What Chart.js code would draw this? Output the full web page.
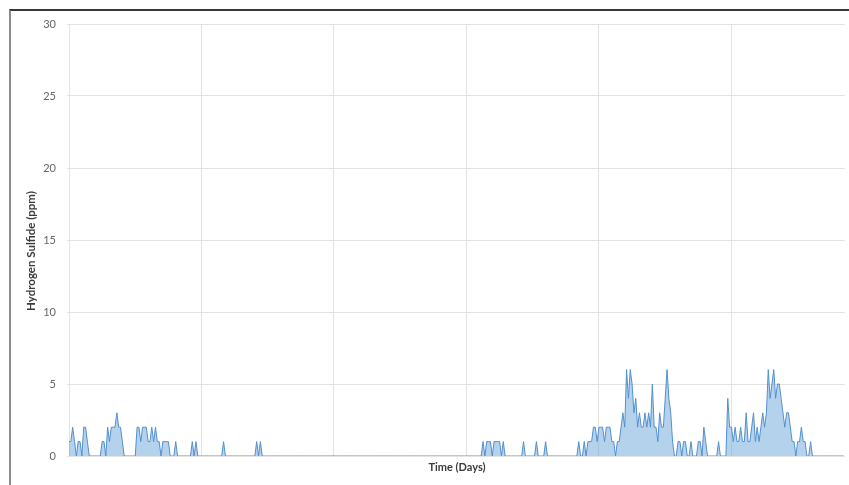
<!DOCTYPE html>
<html>
<head>
<meta charset="utf-8">
<title>Hydrogen Sulfide</title>
<script src="https://cdn.jsdelivr.net/npm/chart.js@4.4.0/dist/chart.umd.min.js"></script>
<style>
    html, body { margin: 0; padding: 0; background: #fff; overflow: hidden; }
    #wrap { position: relative; width: 849px; height: 485px; }
    #frame {
        position: absolute; left: 9px; top: 9px; width: 900px; height: 520px;
        border-top: 2px solid #383838; border-left: 2px solid #8c8c8c;
        pointer-events: none;
    }
</style>
</head>
<body>
<div id="wrap">
    <canvas id="h2sChart"></canvas>
    <div id="frame"></div>
</div>
<script>
// one reading every 20 minutes
const SAMPLES_PER_DAY = 72;
const X_MAX_DAYS = 5.857;

// gridline positions
const dayGrid = [0, 1, 2, 3, 4, 5];
const ppmTicks = [0, 5, 10, 15, 20, 25, 30];

// H2S readings (ppm)
const h2sPpm = [
    1,1,2,1,0,1,1,0,2,2,1,0, 0,0,0,0,0,0, 1,1,0,2,1,2,2,2,3,2,2,1, 0,0,0,0,0,0,
    0, 2,2,1,2,2,2,1,1,2,1,2,1,1,0,1,1,1,1, 0,0,0, 1, 0,0,0,0,0,0,0,0, 1,0,1, 0,0,
    0,0,0,0,0,0,0,0,0,0,0,0, 1, 0,0,0,0,0,0,0,0,0,0,0,0,0,0,0,0,0, 1,0,1, 0,0,0,
    0,0,0,0,0,0,0,0,0,0,0,0,0,0,0,0,0,0,0,0,0,0,0,0,0,0,0,0,0,0,0,0,0,0,0,0,
    0,0,0,0,0,0,0,0,0,0,0,0,0,0,0,0,0,0,0,0,0,0,0,0,0,0,0,0,0,0,0,0,0,0,0,0,
    0,0,0,0,0,0,0,0,0,0,0,0,0,0,0,0,0,0,0,0,0,0,0,0,0,0,0,0,0,0,0,0,0,0,0,0,
    0,0,0,0,0,0,0,0,0, 1,0, 1,1,1,0,1,1,1,1,0,1, 0,0,0,0,0,0,0,0,0,0, 1, 0,0,0,0,
    0,0, 1, 0,0,0,0, 1, 0,0,0,0,0,0,0,0,0,0,0,0,0,0,0,0,0, 1, 0,0, 1,0,1,1,1, 2,2,1,
    2,2,2,1,2,2,2, 1,1,0,1,1, 2,3,2, 6,4,6,5, 3,4, 2,3,2,2, 3,2,3,2,5,2,2,1,3,2,2,
    4,6,4,3,1, 0,0, 1,1,0,1,1, 0,0, 1, 0,0,0, 1,1,0,2,1, 0,0,0,0,0,0, 1, 0,0,0,0, 4, 2,
    2,1,2,1,1, 2,1,1,3,1,1,2, 3,1,2,1,2, 3,2,3, 6,4,5,6,4,5,5,4, 3,2,3,3,2, 1,1,0,
    1,1,2,1,1, 0,0, 1, 0,0,0,0,0,0,0,0,0,0,0,0,0,0,0,0,0,0
];

const FONT = 'Lato, "Liberation Sans", sans-serif';
const GRID_COLOR = '#e3e3e3';

// y title is drawn a little below the plot centre, as in the source chart
const yTitlePlugin = {
    id: 'yTitle',
    afterDraw(chart) {
        const ctx = chart.ctx;
        ctx.save();
        ctx.translate(31, 251);
        ctx.rotate(-Math.PI / 2);
        ctx.font = 'bold 11.5px ' + FONT;
        ctx.fillStyle = '#3a3a3a';
        ctx.textAlign = 'center';
        ctx.textBaseline = 'middle';
        ctx.fillText('Hydrogen Sulfide (ppm)', 0, 0);
        ctx.restore();
    }
};

function createH2sChart() {
    const ctx = document.getElementById('h2sChart').getContext('2d');
    const points = h2sPpm.map((v, i) => ({ x: i / SAMPLES_PER_DAY, y: v }));

    new Chart(ctx, {
        type: 'line',
        data: {
            datasets: [{
                label: 'Hydrogen Sulfide',
                data: points,
                borderColor: '#5190cf',
                backgroundColor: 'rgba(91, 155, 213, 0.45)',
                borderWidth: 1,
                pointRadius: 0,
                tension: 0,
                fill: 'origin'
            }]
        },
        options: {
            responsive: true,
            maintainAspectRatio: false,
            animation: false,
            layout: { padding: { left: 12, right: 4, top: 24, bottom: 0 } },
            plugins: {
                legend: { display: false },
                tooltip: { enabled: false }
            },
            scales: {
                x: {
                    type: 'linear',
                    min: 0,
                    max: X_MAX_DAYS,
                    afterBuildTicks: s => { s.ticks = dayGrid.map(v => ({ value: v })); },
                    afterFit: s => { s.height = 29; },
                    ticks: { display: false },
                    grid: { color: GRID_COLOR, drawTicks: false },
                    border: { display: false },
                    title: {
                        display: true,
                        text: 'Time (Days)',
                        color: '#3a3a3a',
                        font: { family: FONT, size: 11, weight: 'bold' },
                        padding: { top: 5, bottom: 11 }
                    }
                },
                y: {
                    min: 0,
                    max: 30,
                    afterBuildTicks: s => { s.ticks = ppmTicks.map(v => ({ value: v })); },
                    afterFit: s => { s.width = 57; },
                    ticks: {
                        padding: 11,
                        color: '#666',
                        font: { family: FONT, size: 11 }
                    },
                    grid: { color: GRID_COLOR, tickLength: 2 },
                    border: { display: false }
                }
            }
        },
        plugins: [yTitlePlugin]
    });
}

window.addEventListener('DOMContentLoaded', createH2sChart);
</script>
</body>
</html>
